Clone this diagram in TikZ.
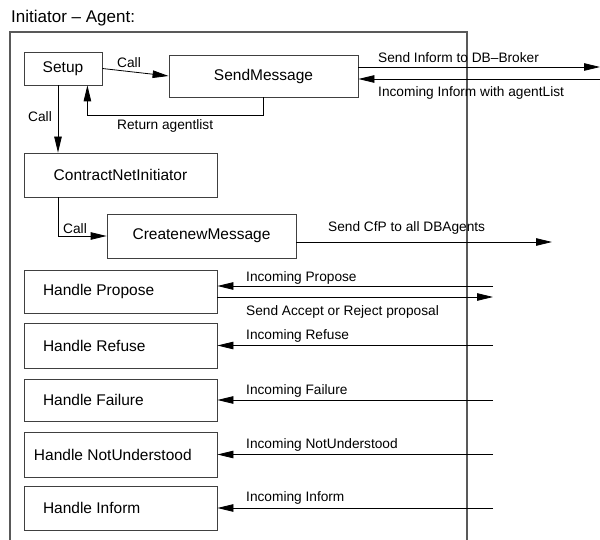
\documentclass[tikz,border=0pt]{standalone}
\usepackage{fontspec}
\setmainfont{Liberation Sans}
\usetikzlibrary{arrows.meta}
\tikzset{
  box/.style={draw=black!75, line width=0.8pt, inner sep=0pt, minimum width=193pt, minimum height=44pt, font=\fontsize{15.5}{18}\selectfont},
  hbox/.style={box, text width=155pt, inner xsep=19pt, align=flush left},
  lbl/.style={anchor=base west, inner sep=0pt, font=\fontsize{13.7}{16}\selectfont},
  arr/.style={line width=0.8pt, -{Triangle[length=16pt,width=7.5pt]}},
  frame/.style={line width=1.1pt, color=black!65}
}

\begin{document}
\begin{tikzpicture}[x=1pt, y=-1pt]
		\useasboundingbox (0,0) rectangle (600,540);
		%%%%% START %%%%%
		
		\node[anchor=base west, inner sep=0pt, font=\fontsize{17}{20}\selectfont] (title) at (11,23) {Initiator -- Agent:};
		\draw[frame] (10,540) -- (10,32) -- (467,32) -- (467,540);
		
		\coordinate (edge) at (600,0);
		\coordinate (rim) at (493,0);
		\coordinate (cfp) at (552,242);
		
		\node[box, minimum width=78pt, minimum height=33pt] (setup) at (63,68.5) {Setup};
		\node[box, minimum width=189pt, minimum height=42pt] (send) at (263.5,76) {SendMessage};
		\node[box] (cni) at (120.5,175) {ContractNetInitiator};
		\node[box, minimum width=189pt] (create) at (201.5,236) {CreatenewMessage};
		
		\node[hbox, minimum height=43pt] (propose) at (120.5,291.5) {Handle Propose};
		\node[hbox, minimum height=45pt] (refuse) at (120.5,345.5) {Handle Refuse};
		\node[hbox, minimum height=42pt] (failure) at (120.5,400) {Handle Failure};
		\node[hbox, minimum height=45pt, inner xsep=10pt, text width=173pt] (notund) at (120.5,454.5) {Handle NotUnderstood};
		\node[hbox] (inform) at (120.5,508) {Handle Inform};
		
		\draw[arr] (setup.east) -- (send.west);
		\node[lbl] (lcall1) at (117,68) {Call};
		\draw[arr] (send.south) -- ++(0,18) -| ([xshift=-15pt]setup.south east);
		\node[lbl] (lret) at (117,130) {Return agentlist};
		
		\draw[arr] ([yshift=9pt]send.east) -- ([yshift=9pt]send.east -| edge);
		\node[lbl] (lsinf) at (378,63) {Send Inform to DB--Broker};
		\draw[arr] ([yshift=-3pt]send.east -| edge) -- ([yshift=-3pt]send.east);
		\node[lbl] (liinf) at (378,97) {Incoming Inform with agentList};
		
		\draw[arr] ([xshift=-5pt]setup.south) -- ([xshift=-5pt]setup.south |- cni.north);
		\node[lbl] (lcall2) at (28,122) {Call};
		\draw[arr] ([xshift=-5pt]setup.south |- cni.south) |- (create.west);
		\node[lbl] (lcall3) at (63,234) {Call};
		
		\draw[arr] (create.east |- cfp) -- (cfp);
		\node[lbl] (lcfp) at (328,232) {Send CfP to all DBAgents};
		
		\draw[arr] ([yshift=5.5pt]propose.east -| rim) -- ([yshift=5.5pt]propose.east);
		\node[lbl] (lprop) at (246,281) {Incoming Propose};
		\draw[arr] ([yshift=-5.5pt]propose.east) -- ([yshift=-5.5pt]propose.east -| rim);
		\node[lbl] (lacc) at (246,315) {Send Accept or Reject proposal};
		
		\foreach \h/\t/\y in {refuse/Refuse/339, failure/Failure/394, notund/NotUnderstood/448, inform/Inform/501} {
			\draw[arr] (\h.east -| rim) -- (\h.east);
			\node[lbl] (l\h) at (246,\y) {Incoming \t};
		}
		
		%%%%% END %%%%%
	\end{tikzpicture}
\end{document}
